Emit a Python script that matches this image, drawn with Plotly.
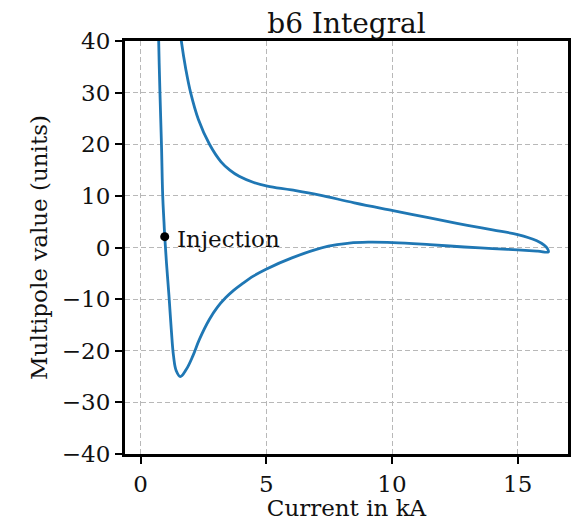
import plotly.graph_objects as go

# Hysteresis loop of b6 integral vs current
current_kA = [
    0.70, 0.72, 0.77, 0.83, 0.88, 0.93, 0.96, 1.03, 1.13, 1.22, 1.31, 1.42, 1.58,
    1.82, 2.08, 2.34, 2.74, 3.05, 3.39, 3.70, 4.05, 4.50, 4.97, 6.02, 7.47, 8.30,
    9.05, 10.04, 11.50, 12.87, 14.00, 15.00, 15.80, 16.22,
    16.18, 16.05, 15.76, 15.00, 14.00, 13.00, 11.50, 10.04, 8.50, 7.08, 6.00,
    5.04, 4.50, 3.92, 3.55, 3.20, 2.74, 2.30, 1.99, 1.80, 1.62, 1.45,
]
b6_units = [
    48.0, 40.0, 30.0, 20.0, 10.0, 5.0, 2.2, -3.0, -9.4, -15.8, -21.0, -23.9, -25.0,
    -23.6, -21.0, -17.8, -13.9, -11.6, -9.7, -8.3, -7.0, -5.5, -4.25, -2.0, 0.25, 0.85,
    1.03, 0.95, 0.55, 0.1, -0.2, -0.45, -0.7, -0.85,
    -0.2, 0.45, 1.3, 2.5, 3.4, 4.3, 5.75, 7.15, 8.65, 10.2, 11.15,
    11.9, 12.6, 13.8, 15.0, 16.6, 20.0, 24.8, 30.0, 34.5, 40.0, 47.0,
]

injection_kA = [0.96]
injection_b6 = [2.1]
injection_label = "Injection"

x_ticks = [0, 5, 10, 15]
y_ticks = [-40, -30, -20, -10, 0, 10, 20, 30, 40]

FONT = "DejaVu Serif"
TXT = "#111111"

fig = go.Figure()
fig.add_trace(go.Scatter(
    x=current_kA, y=b6_units, mode="lines",
    line=dict(color="#1f77b4", width=2.8, shape="spline", smoothing=1.1),
    showlegend=False, hoverinfo="skip",
))
fig.add_trace(go.Scatter(
    x=injection_kA, y=injection_b6, mode="markers",
    marker=dict(color="black", size=9),
    showlegend=False, hoverinfo="skip",
))
fig.add_annotation(
    x=injection_kA[0], y=injection_b6[0], text=injection_label,
    showarrow=False, xanchor="left", yanchor="middle", xshift=10, yshift=-2,
    font=dict(family=FONT, size=23, color=TXT),
)

axis_common = dict(
    showline=True, linecolor="black", linewidth=3, mirror=True,
    ticks="outside", ticklen=7, tickwidth=1.5, tickcolor="black",
    showgrid=True, gridcolor="#b8b8b8", gridwidth=1.2, griddash="5px,3px",
    zeroline=False,
    tickfont=dict(family=FONT, size=23, color=TXT),
)

fig.update_xaxes(
    range=[-0.62, 17.0], tickvals=x_ticks, ticktext=[str(v) for v in x_ticks],
    title=dict(text="Current in kA", font=dict(family=FONT, size=23, color=TXT), standoff=6),
    **axis_common,
)
fig.update_yaxes(
    range=[-40, 40], tickvals=y_ticks,
    ticktext=[("\u2212" + str(-v)) if v < 0 else str(v) for v in y_ticks],
    title=dict(text="Multipole value (units)", font=dict(family=FONT, size=23, color=TXT), standoff=8),
    **axis_common,
)

fig.update_layout(
    width=573, height=521,
    margin=dict(l=125, r=2, t=41, b=66),
    paper_bgcolor="white", plot_bgcolor="white",
    title=dict(text="b6 Integral", x=0.5, xref="paper", xanchor="center",
               y=1.0, yref="paper", yanchor="bottom", pad=dict(b=8),
               font=dict(family=FONT, size=28, color=TXT)),
)

fig.write_html("out.html")
